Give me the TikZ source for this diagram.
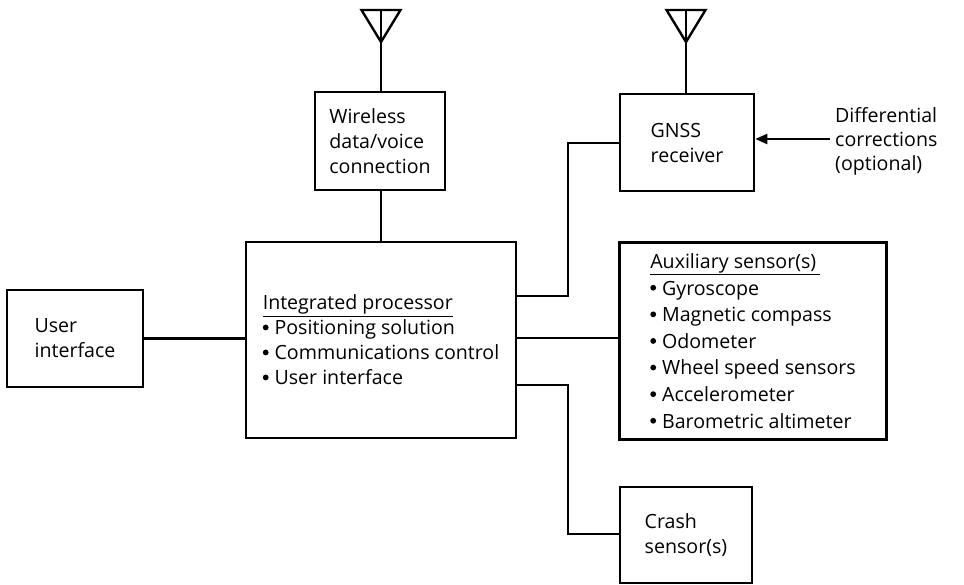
\documentclass[tikz,border=0pt]{standalone}
\usepackage{fontspec}
\setmainfont{Open Sans}
\usetikzlibrary{arrows.meta}
\newcommand\bul{\raisebox{4.5pt}{\tikz\fill (0,0) circle[radius=2.9pt];}\hspace{6pt}}
\begin{document}
\begin{tikzpicture}[x=1pt,y=-1pt,
  box/.style={draw,line width=2.6pt,align=left,inner sep=0pt,font=\fontsize{19.6}{25}\selectfont},
  conn/.style={line width=2.2pt},
  ant/.style={line width=2.4pt,line join=miter}]
\useasboundingbox (0,0) rectangle (964,584);
\node[box,minimum width=130pt,minimum height=98pt] (wl) at (380,141) {Wireless\\data/voice\\connection};
\node[box,minimum width=134pt,minimum height=97pt] (gnss) at (687,142.5) {GNSS\\receiver};
\node[box,minimum width=270pt,minimum height=196pt] (proc) at (381,340) {\underline{Integrated processor}\\\bul Positioning solution\\\bul Communications control\\\bul User interface};
\node[box,minimum width=136pt,minimum height=97pt] (user) at (75,338.5) {User\\interface};
\node[box,minimum width=267pt,minimum height=197pt,font=\fontsize{19.6}{26.6}\selectfont] (aux) at (753,341) {\underline{Auxiliary sensor(s)\,}\\\bul Gyroscope\\\bul Magnetic compass\\\bul Odometer\\\bul Wheel speed sensors\\\bul Accelerometer\\\bul Barometric altimeter};
\node[box,minimum width=132pt,minimum height=96pt] (crash) at (686,535) {Crash\\sensor(s)};
\node[align=left,anchor=west,inner sep=0pt,font=\fontsize{19.6}{24}\selectfont] (diff) at (835,141) {Differential\\corrections\\(optional)};
% antennas
\coordinate (a1) at (381,10);
\coordinate (a2) at (686,10);
\draw[ant] (a1) -- (wl.north -| a1);
\draw[ant] ([xshift=-19.5pt]a1) -- ([xshift=19.5pt]a1) -- ([yshift=-32pt]a1) -- cycle;
\draw[ant] (a2) -- (gnss.north -| a2);
\draw[ant] ([xshift=-19.5pt]a2) -- ([xshift=19.5pt]a2) -- ([yshift=-32pt]a2) -- cycle;
% connectors
\draw[conn] (wl.south -| proc.north) -- (proc.north);
\draw[conn] (user.east) -- (user.east -| proc.west);
\coordinate (g1) at (568,296);
\coordinate (g2) at (568,143);
\draw[conn] (proc.east |- g1) -- (g1) -- (g2) -- (gnss.west |- g2);
\coordinate (c1) at (568,385);
\coordinate (c2) at (568,534);
\draw[conn] (proc.east |- c1) -- (c1) -- (c2) -- (crash.west |- c2);
\coordinate (x1) at (0,338);
\draw[conn] (proc.east |- x1) -- (aux.west |- x1);
\coordinate (d1) at (830,139);
\draw[conn,-{Triangle[length=12pt,width=10pt]}] (d1) -- (gnss.east |- d1);
\end{tikzpicture}
\end{document}
